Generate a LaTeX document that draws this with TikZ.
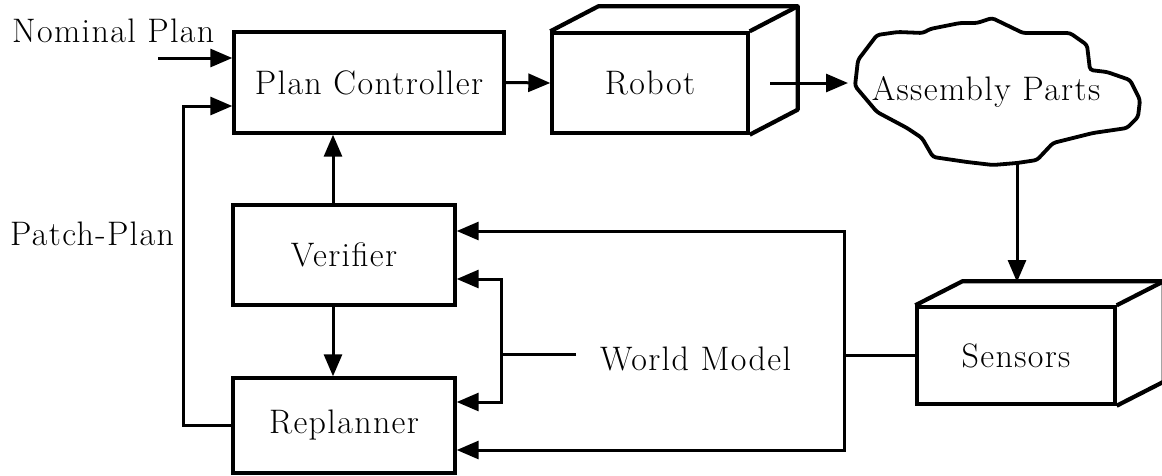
\documentclass[tikz,border=0pt]{standalone}
\usepackage{fontspec}
\setmainfont{Latin Modern Roman}[LetterSpace=4]
\usetikzlibrary{arrows.meta,calc}
\begin{document}
\begin{tikzpicture}[x=1pt,y=-1pt,
  every node/.style={font=\fontsize{34}{40}\selectfont},
  box/.style={draw,line width=3.4pt,inner sep=0pt},
  cube/.style={line width=4.2pt,line join=round},
  conn/.style={line width=3pt},
  arr/.style={conn,-{Triangle[length=22pt,width=18pt]}},
  barr/.style={conn,{Triangle[length=22pt,width=18pt]}-{Triangle[length=22pt,width=18pt]}}]
\useasboundingbox (0,0) rectangle (1162,475);

% boxes
\node[box,minimum width=270pt,minimum height=101pt] (pc) at (369,82.5) {Plan Controller};
\node[box,minimum width=196pt,minimum height=100pt] (robot) at (650,83) {Robot};
\node[box,minimum width=222pt,minimum height=100pt] (ver) at (344,255) {Verifier};
\node[box,minimum width=222pt,minimum height=95pt] (rp) at (344,425.5) {Replanner};
\node[box,minimum width=198pt,minimum height=97pt] (sens) at (1016,355.5) {Sensors};

% 3D faces
\draw[cube] (robot.north west) -- ++(48,-25) -| ([shift={(48,-25)}]robot.south east) -- (robot.south east);
\draw[cube] (robot.north east) -- ++(48,-25);
\draw[cube] (sens.north west) -- ++(47,-24) -| ([shift={(47,-24)}]sens.south east) -- (sens.south east);
\draw[cube] (sens.north east) -- ++(47,-24);

% cloud
\draw[line width=3.8pt,rounded corners=3pt] (855,86) -- (858,60) -- (877,35) -- (898,32) -- (923,33) -- (930,29) -- (960,23) -- (977,23) -- (992,18) -- (1023,33) -- (1070,33) -- (1087,45) -- (1090,70) -- (1107,72) -- (1130,80) -- (1140,100) -- (1138,117) -- (1127,128) -- (1093,133) -- (1053,143) -- (1037,160) -- (1017,163) -- (993,165) -- (967,162) -- (933,157) -- (922,138) -- (907,128) -- (877,112) -- cycle;
\node[anchor=base] (ap) at (986,100) {Assembly Parts};

% labels
\node[anchor=base west,inner sep=0pt] (np) at (12,42) {Nominal Plan};
\node[anchor=base west,inner sep=0pt] (pp) at (10,245) {Patch-Plan};
\node[anchor=base west,inner sep=0pt] (wm) at (600,370) {World Model};

% coordinates
\coordinate (ns) at (158,58);
\coordinate (pcn) at ([yshift=24.5pt]pc.west);
\coordinate (pcin) at ([yshift=-23.5pt]pc.west);
\coordinate (px) at (183,0);
\coordinate (ax) at (333,0);
\coordinate (rs) at (770,83);
\coordinate (cloudL) at (848,83);
\coordinate (cloudB) at (1017,163);
\coordinate (sensTop) at (1017,282);
\coordinate (vin1) at ([yshift=24pt]ver.east);
\coordinate (vin2) at ([yshift=-24pt]ver.east);
\coordinate (rin1) at ([yshift=23.5pt]rp.east);
\coordinate (rin2) at ([yshift=-24.5pt]rp.east);
\coordinate (bx) at (844,0);
\coordinate (ix) at (501,0);
\coordinate (wml) at (576,354);

% connectors
\draw[arr] (ns) -- (pcn);
\draw[arr] (rp.west) -- (rp.west -| px) -- (px |- pcin) -- (pcin);
\draw[arr] (pc.east) -- (robot.west);
\draw[arr] (ver.north -| ax) -- (pc.south -| ax);
\draw[arr] (ver.south -| ax) -- (rp.north -| ax);
\draw[arr] (rs) -- (cloudL);
\draw[arr] (cloudB) -- (sensTop);
\draw[barr] (vin1) -- (vin1 -| bx) -- (rin2 -| bx) -- (rin2);
\draw[barr] (vin2) -- (vin2 -| ix) -- (rin1 -| ix) -- (rin1);
\draw[conn] (wml) -- (wml -| ix);
\draw[conn] (sens.west) -- (sens.west -| bx);
\end{tikzpicture}
\end{document}
